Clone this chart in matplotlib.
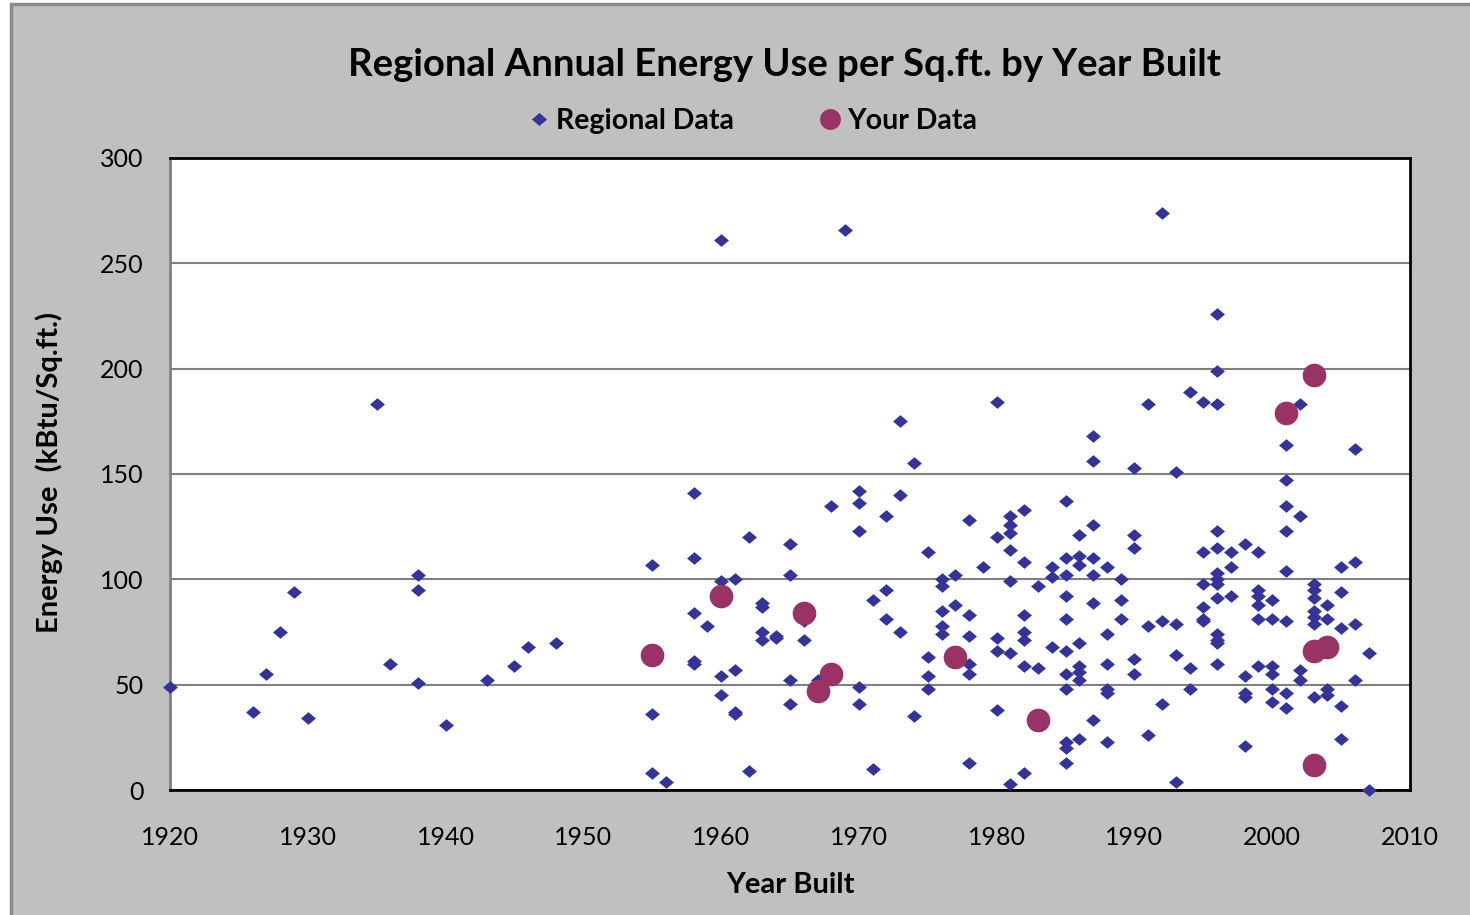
import matplotlib
matplotlib.use("Agg")
import matplotlib.pyplot as plt
from matplotlib.patches import Rectangle
from matplotlib.lines import Line2D

plt.rcParams['font.family'] = ['Lato', 'DejaVu Sans']

title = "Regional Annual Energy Use per Sq.ft. by Year Built"
x_label = "Year Built"
y_label = "Energy Use  (kBtu/Sq.ft.)"
series_names = ["Regional Data", "Your Data"]
x_ticks = [1920, 1930, 1940, 1950, 1960, 1970, 1980, 1990, 2000, 2010]
y_ticks = [0, 50, 100, 150, 200, 250, 300]

regional_years = (
    [1920, 1926, 1927, 1928, 1929, 1930, 1935, 1936, 1938, 1938, 1938, 1940,
     1943, 1945, 1946, 1948]
    + [1955] * 3 + [1956] + [1958] * 5 + [1959] + [1960] * 4 + [1961] * 4
    + [1962] * 2 + [1963] * 4 + [1964] * 2 + [1965] * 4 + [1966] * 2 + [1967]
    + [1968] + [1969] + [1970] * 5 + [1971] * 2 + [1972] * 3 + [1973] * 3
    + [1974] * 2 + [1975] * 4 + [1976] * 5 + [1977] * 2 + [1978] * 6 + [1979]
    + [1980] * 5 + [1981] * 7 + [1982] * 7 + [1983] * 2 + [1984] * 3
    + [1985] * 11 + [1986] * 8 + [1987] * 7 + [1988] * 6 + [1989] * 3
    + [1990] * 5 + [1991] * 3 + [1992] * 3 + [1993] * 4 + [1994] * 3
    + [1995] * 6 + [1996] * 13 + [1997] * 3 + [1998] * 5 + [1999] * 6
    + [2000] * 6 + [2001] * 8 + [2002] * 4 + [2003] * 7 + [2004] * 5
    + [2005] * 5 + [2006] * 4 + [2007] * 2
)
regional_values = [
    49, 37, 55, 75, 94, 34, 183, 60, 102, 95, 51, 31, 52, 59, 68, 70,
    107, 36, 8,
    4,
    141, 110, 84, 61, 60,
    78,
    261, 99, 54, 45,
    100, 57, 37, 36,
    120, 9,
    89, 87, 75, 71,
    73, 72,
    117, 102, 52, 41,
    80, 71,
    52,
    135,
    266,
    142, 136, 123, 49, 41,
    90, 10,
    130, 95, 81,
    175, 140, 75,
    155, 35,
    113, 63, 54, 48,
    100, 97, 85, 78, 74,
    102, 88,
    128, 83, 73, 60, 55, 13,
    106,
    184, 120, 72, 66, 38,
    130, 126, 122, 114, 99, 65, 3,
    133, 108, 83, 75, 71, 59, 8,
    97, 58,
    106, 101, 68,
    137, 110, 102, 92, 81, 66, 55, 48, 23, 20, 13,
    121, 111, 107, 70, 59, 56, 52, 24,
    168, 156, 126, 110, 102, 89, 33,
    106, 74, 60, 48, 46, 23,
    100, 90, 81,
    153, 121, 115, 62, 55,
    183, 78, 26,
    274, 80, 41,
    151, 79, 64, 4,
    189, 58, 48,
    184, 113, 98, 87, 81, 80,
    226, 199, 183, 123, 115, 103, 100, 98, 91, 74, 71, 70, 60,
    113, 106, 92,
    117, 54, 46, 44, 21,
    113, 95, 92, 88, 81, 59,
    90, 81, 59, 55, 48, 42,
    164, 147, 135, 123, 104, 80, 46, 39,
    183, 130, 57, 52,
    98, 95, 91, 85, 82, 79, 44,
    88, 81, 67, 48, 45,
    106, 94, 77, 40, 24,
    162, 108, 79, 52,
    65, 0,
]

your_years = [1955, 1960, 1966, 1967, 1968, 1977, 1983, 2001, 2003, 2003, 2004, 2003]
your_values = [64, 92, 84, 47, 55, 63, 33, 179, 197, 66, 68, 12]

diamond_color = "#333399"
circle_color = "#993366"
bg_color = "#C0C0C0"

W, H = 1470, 915
fig = plt.figure(figsize=(W / 100, H / 100), dpi=100, facecolor="white")
# chart area background with border
fig.patches.append(Rectangle((11 / W, -0.01), 1.02, 1 - 4 / H + 0.01,
                             transform=fig.transFigure, facecolor=bg_color,
                             edgecolor="#8a8a8a", linewidth=2.5, zorder=-10))

ax = fig.add_axes([170 / W, 1 - 790 / H, (1410 - 170) / W, (790 - 158) / H])
ax.set_facecolor("white")
ax.set_xlim(1920, 2010)
ax.set_ylim(0, 300)
ax.set_xticks(x_ticks)
ax.set_yticks(y_ticks)
ax.tick_params(axis="both", length=0, labelsize=18, colors="black")
ax.tick_params(axis="x", pad=26)
ax.tick_params(axis="y", pad=19)
ax.yaxis.grid(True, color="#808080", linewidth=1.5)
ax.set_axisbelow(True)
for side in ["top", "right", "bottom"]:
    ax.spines[side].set_color("black")
    ax.spines[side].set_linewidth(2)
ax.spines["left"].set_color("#808080")
ax.spines["left"].set_linewidth(2)

diamond = [(-1, 0), (0, 0.85), (1, 0), (0, -0.85), (-1, 0)]
ax.scatter(regional_years, regional_values, marker=diamond, s=115,
           color=diamond_color, linewidths=0, zorder=3, clip_on=False)
ax.scatter(your_years, your_values, marker="o", s=290,
           color=circle_color, linewidths=0, zorder=4, clip_on=False)

fig.text(785 / W, 1 - 65 / H, title, ha="center", va="center",
         fontsize=27.5, fontweight="bold")
ax.set_xlabel(x_label, fontsize=21, fontweight="bold")
ax.set_ylabel(y_label, fontsize=21, fontweight="bold")
ax.xaxis.set_label_coords((790 - 170) / 1240, (790 - 872) / 632)
ax.yaxis.set_label_coords((63 - 170) / 1240, (790 - 473) / 632)

handles = [
    Line2D([], [], linestyle="none", marker=diamond, markersize=11,
           color=diamond_color, markeredgewidth=0),
    Line2D([], [], linestyle="none", marker="o", markersize=15,
           color=circle_color, markeredgewidth=0),
]
fig.legend(handles, series_names, loc="center",
           bbox_to_anchor=(751 / W, 1 - 121 / H), ncol=2, frameon=False,
           handletextpad=0.1, columnspacing=2.85, handlelength=1.0,
           prop={"size": 20.5, "weight": "bold"})

fig.savefig("out.png", dpi=100, facecolor=fig.get_facecolor())
